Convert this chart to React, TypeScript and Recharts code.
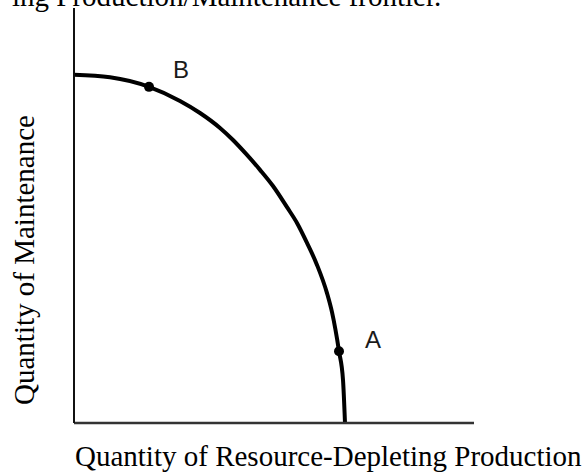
import React from "react";
import {
  ComposedChart,
  Line,
  Scatter,
  XAxis,
  YAxis,
  Label,
} from "recharts";

// frontier curve (x = production, y = maintenance)
const frontierX = [0, 9, 18.75, 26.5, 31.5, 36.5, 39.75, 43.25, 46.5, 49.75, 53.25, 55.75, 58.25, 60.75, 63.25, 64.5, 66.25, 67.25, 67.75];
const frontierY = [83.9, 83.3, 81.0, 77.6, 74.7, 71.1, 68.2, 64.6, 61.0, 57.1, 52.0, 48.2, 43.4, 38.1, 31.3, 26.7, 17.3, 10.4, 0];

// marked points on the frontier
const pointNames = ["B", "A"];
const pointX = [18.75, 66.25];
const pointY = [81.0, 17.3];

const titleText = "ing Production/Maintenance frontier.";
const xLabel = "Quantity of Resource-Depleting Production";
const yLabel = "Quantity of Maintenance";

const frontier = frontierX.map((x, i) => ({ x, y: frontierY[i] }));
const points = pointNames.map((name, i) => ({ name, x: pointX[i], y: pointY[i] }));

const serif = "'Liberation Serif', 'Times New Roman', serif";
const labelOffset: Record<string, [number, number]> = { B: [32, -9], A: [34, -3] };

const PointMark = (props: any) => {
  const { cx, cy, payload } = props;
  const [dx, dy] = labelOffset[payload.name] || [30, -10];
  return (
    <g>
      <circle cx={cx} cy={cy} r={5} fill="#000" />
      <text
        x={cx + dx}
        y={cy + dy}
        textAnchor="middle"
        fontFamily="'Liberation Sans', Arial, sans-serif"
        fontSize={24}
        fill="#1a1a1a"
      >
        {payload.name}
      </text>
    </g>
  );
};

export default function App() {
  return (
    <div style={{ position: "absolute", left: 0, top: 0, width: 588, height: 474, background: "#fff", overflow: "hidden" }}>
      <svg width={588} height={20} style={{ position: "absolute", left: 0, top: 0 }}>
        <text x={12} y={6} fontFamily={serif} fontSize={29} fill="#000">
          {titleText}
        </text>
      </svg>
      <ComposedChart
        width={588}
        height={474}
        margin={{ top: 8, right: 114, bottom: 0, left: 0 }}
      >
        <XAxis
          type="number"
          dataKey="x"
          domain={[0, 100]}
          tick={false}
          tickLine={false}
          height={51}
          axisLine={{ stroke: "#333", strokeWidth: 2.5 }}
        >
          <Label
            content={() => (
              <text x={75} y={466} fontFamily={serif} fontSize={29} fill="#000">
                {xLabel}
              </text>
            )}
          />
        </XAxis>
        <YAxis
          type="number"
          dataKey="y"
          domain={[0, 100]}
          width={74}
          tick={false}
          tickLine={false}
          axisLine={{ stroke: "#111", strokeWidth: 2 }}
        >
          <Label
            content={() => (
              <text
                x={34}
                y={260}
                transform="rotate(-90 34 260)"
                textAnchor="middle"
                fontFamily={serif}
                fontSize={29}
                fill="#000"
              >
                {yLabel}
              </text>
            )}
          />
        </YAxis>
        <Line
          data={frontier}
          dataKey="y"
          type="monotoneX"
          stroke="#000"
          strokeWidth={4}
          dot={false}
          activeDot={false}
          isAnimationActive={false}
        />
        <Scatter
          data={points}
          dataKey="y"
          shape={PointMark}
          isAnimationActive={false}
        />
      </ComposedChart>
    </div>
  );
}
